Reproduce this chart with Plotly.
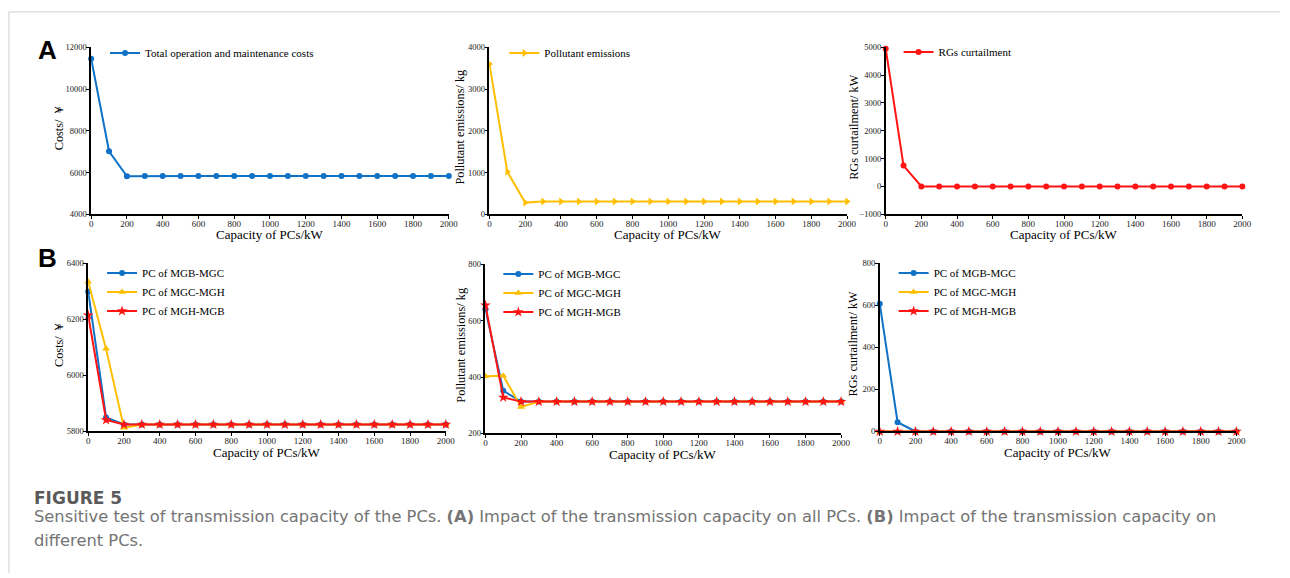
import plotly.graph_objects as go

W, H = 1290, 578

# ---------------- data ----------------
capacity = [0, 100, 200, 300, 400, 500, 600, 700, 800, 900, 1000,
            1100, 1200, 1300, 1400, 1500, 1600, 1700, 1800, 1900, 2000]

a_costs = [11450, 7020, 5820, 5830, 5830, 5830, 5830, 5830, 5830, 5830, 5830,
           5830, 5830, 5830, 5830, 5830, 5830, 5830, 5830, 5830, 5830]
a_pollutant = [3600, 1020, 280, 305, 305, 305, 305, 305, 305, 305, 305,
               305, 305, 305, 305, 305, 305, 305, 305, 305, 305]
a_curtail = [4950, 750, 0, 0, 0, 0, 0, 0, 0, 0, 0,
             0, 0, 0, 0, 0, 0, 0, 0, 0, 0]

b_costs_bc = [6300, 5850, 5825, 5825, 5825, 5825, 5825, 5825, 5825, 5825, 5825,
              5825, 5825, 5825, 5825, 5825, 5825, 5825, 5825, 5825, 5825]
b_costs_ch = [6335, 6095, 5813, 5825, 5825, 5825, 5825, 5825, 5825, 5825, 5825,
              5825, 5825, 5825, 5825, 5825, 5825, 5825, 5825, 5825, 5825]
b_costs_hb = [6215, 5841, 5825, 5825, 5825, 5825, 5825, 5825, 5825, 5825, 5825,
              5825, 5825, 5825, 5825, 5825, 5825, 5825, 5825, 5825, 5825]

b_poll_bc = [640, 352, 313, 313, 313, 313, 313, 313, 313, 313, 313,
             313, 313, 313, 313, 313, 313, 313, 313, 313, 313]
b_poll_ch = [403, 405, 294, 313, 313, 313, 313, 313, 313, 313, 313,
             313, 313, 313, 313, 313, 313, 313, 313, 313, 313]
b_poll_hb = [655, 328, 313, 313, 313, 313, 313, 313, 313, 313, 313,
             313, 313, 313, 313, 313, 313, 313, 313, 313, 313]

b_curt_bc = [608, 44, 0, 0, 0, 0, 0, 0, 0, 0, 0,
             0, 0, 0, 0, 0, 0, 0, 0, 0, 0]
b_curt_ch = [0, 0, 0, 0, 0, 0, 0, 0, 0, 0, 0,
             0, 0, 0, 0, 0, 0, 0, 0, 0, 0]
b_curt_hb = [0, 0, 0, 0, 0, 0, 0, 0, 0, 0, 0,
             0, 0, 0, 0, 0, 0, 0, 0, 0, 0]

x_title = "Capacity of PCs/kW"
y_titles = ["Costs/ ￥", "Pollutant emissions/ kg", "RGs curtailment/ kW",
            "Costs/ ￥", "Pollutant emissions/ kg", "RGs curtailment/ kW"]
y_ranges = [[4000, 12000], [0, 4000], [-1000, 5000],
            [5800, 6400], [200, 800], [0, 800]]
y_dticks = [2000, 1000, 1000, 200, 200, 200]
names_b = ["PC of MGB-MGC", "PC of MGC-MGH", "PC of MGH-MGB"]

caption_head = "FIGURE 5"
caption_l1 = ("Sensitive test of transmission capacity of the PCs. <b>(A)</b> Impact of the "
              "transmission capacity on all PCs. <b>(B)</b> Impact of the transmission capacity on")
caption_l2 = "different PCs."

BLUE = "#0f72c6"
YELLOW = "#ffbf00"
RED = "#ff1414"
SERIF = "Liberation Serif, Times New Roman, serif"

# ---------------- layout boxes (pixels) ----------------
boxes = [  # x0, x1, ytop, ybottom
    (90, 451, 43, 213),
    (492, 853, 43, 213),
    (892, 1252, 43, 213),
    (87, 448, 263, 434),
    (488, 847, 264, 436),
    (886, 1246, 263, 434),
]
legend_pos = [(104, 34), (507, 34), (905, 33), (101, 258), (501, 259), (900, 258)]
ytitle_x = [57, 462, 860, 57, 463, 859]

fig = go.Figure()


def add(idx, y, name, color, symbol, msize=6):
    ax = "" if idx == 0 else str(idx + 1)
    fig.add_trace(go.Scatter(
        x=capacity, y=y, name=name, mode="lines+markers",
        line=dict(color=color, width=2),
        marker=dict(color=color, symbol=symbol, size=msize),
        xaxis="x" + ax, yaxis="y" + ax,
        legend="legend" if idx == 0 else "legend" + str(idx + 1),
        cliponaxis=False,
    ))


add(0, a_costs, "Total operation and maintenance costs", BLUE, "circle")
add(1, a_pollutant, "Pollutant emissions", YELLOW, "triangle-right", 7)
add(2, a_curtail, "RGs curtailment", RED, "circle")
for i, (yb, yc, yr) in enumerate([(b_costs_bc, b_costs_ch, b_costs_hb),
                                  (b_poll_bc, b_poll_ch, b_poll_hb),
                                  (b_curt_bc, b_curt_ch, b_curt_hb)]):
    add(3 + i, yb, names_b[0], BLUE, "circle")
    add(3 + i, yc, names_b[1], YELLOW, "triangle-up", 7)
    add(3 + i, yr, names_b[2], RED, "star", 8)

layout = dict(
    width=W, height=H, margin=dict(l=0, r=0, t=0, b=0),
    paper_bgcolor="white", plot_bgcolor="white", showlegend=True,
    font=dict(family=SERIF, color="black"),
)

annotations = []
for i, (x0, x1, yt, yb) in enumerate(boxes):
    ax = "" if i == 0 else str(i + 1)
    layout["xaxis" + ax] = dict(
        domain=[x0 / W, x1 / W], range=[0, 2000], dtick=200, tick0=0,
        anchor="y" + ax, showline=True, linecolor="black", linewidth=1.5,
        ticks="outside", ticklen=3, tickwidth=1, tickcolor="black",
        showgrid=False, zeroline=False, ticklabelstandoff=-3,
        tickfont=dict(family=SERIF, size=9, color="#222"),
    )
    layout["yaxis" + ax] = dict(
        domain=[1 - yb / H, 1 - yt / H], range=y_ranges[i], dtick=y_dticks[i],
        anchor="x" + ax, showline=True, linecolor="black", linewidth=1.5,
        ticks="outside", ticklen=3, tickwidth=1, tickcolor="black",
        showgrid=False, zeroline=False, tickformat="d", ticklabelstandoff=-2,
        tickfont=dict(family=SERIF, size=8.5, color="#222"),
    )
    # axis titles
    annotations.append(dict(
        text=x_title, xref="paper", yref="paper",
        x=(x0 + x1) / 2 / W, y=1 - (yb + 21) / H, showarrow=False,
        xanchor="center", yanchor="middle",
        font=dict(family=SERIF, size=13, color="black")))
    annotations.append(dict(
        text=y_titles[i], xref="paper", yref="paper", textangle=-90,
        x=ytitle_x[i] / W, y=1 - ((yt + yb) / 2 - 4) / H, showarrow=False,
        xanchor="center", yanchor="middle",
        font=dict(family=SERIF, size=12.3, color="black")))
    lx, ly = legend_pos[i]
    layout["legend" if i == 0 else "legend" + str(i + 1)] = dict(
        x=lx / W, y=1 - ly / H, xanchor="left", yanchor="top",
        bgcolor="rgba(0,0,0,0)", borderwidth=0, tracegroupgap=0,
        font=dict(family=SERIF, size=11, color="black"), itemwidth=30,
    )

# panel letters
for letter, px, py in [("A", 46, 46), ("B", 46, 257)]:
    annotations.append(dict(
        text="<b>%s</b>" % letter, xref="paper", yref="paper",
        x=px / W, y=1 - py / H, showarrow=False,
        xanchor="center", yanchor="middle",
        font=dict(family="Liberation Sans, Arial, sans-serif", size=26, color="black")))

# caption
CAPF = "DejaVu Sans, Open Sans, sans-serif"
annotations.append(dict(
    text=caption_head, xref="paper", yref="paper",
    x=30 / W, y=1 - 502 / H, showarrow=False, xanchor="left", yanchor="middle",
    font=dict(family=CAPF, size=17, color="#5a5a5a", weight="bold")))
annotations.append(dict(
    text=caption_l1, xref="paper", yref="paper",
    x=30 / W, y=1 - 520 / H, showarrow=False, xanchor="left", yanchor="middle",
    font=dict(family=CAPF, size=16.3, color="#747474")))
annotations.append(dict(
    text=caption_l2, xref="paper", yref="paper",
    x=30 / W, y=1 - 545 / H, showarrow=False, xanchor="left", yanchor="middle",
    font=dict(family=CAPF, size=16.3, color="#747474")))

layout["annotations"] = annotations
layout["shapes"] = [
    dict(type="line", xref="paper", yref="paper",
         x0=7 / W, x1=1, y0=1 - 7 / H, y1=1 - 7 / H,
         line=dict(color="#cfcfcf", width=1)),
    dict(type="line", xref="paper", yref="paper",
         x0=7 / W, x1=7 / W, y0=0, y1=1 - 7 / H,
         line=dict(color="#cfcfcf", width=1)),
]

fig.update_layout(**layout)
fig.write_html("out.html")
